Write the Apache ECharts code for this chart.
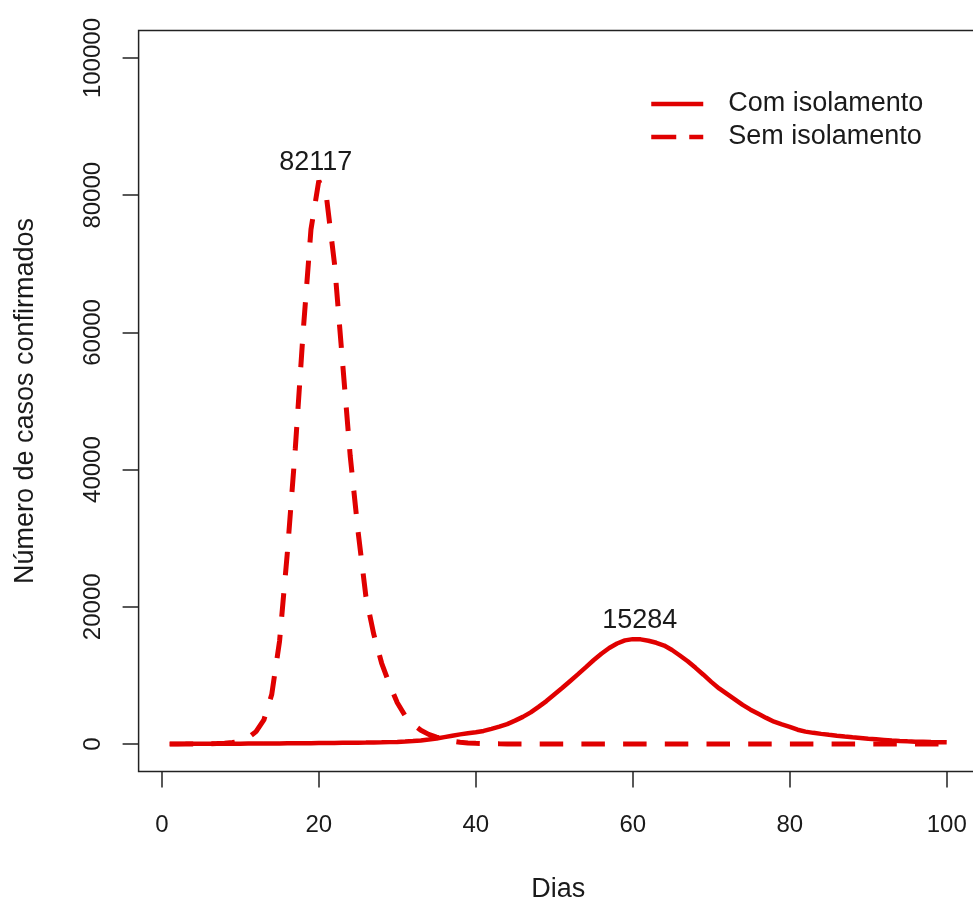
<!DOCTYPE html>
<html><head><meta charset="utf-8">
<script src="https://cdn.jsdelivr.net/npm/echarts@6/dist/echarts.min.js"></script>
<style>html,body{margin:0;padding:0;background:#fff}#c{width:973px;height:902px}</style>
</head><body><div id="c"></div>
<script>
const days = [1,2,3,4,5,6,7,8,9,10,11,12,13,14,15,16,17,18,19,20,
  21,22,23,24,25,26,27,28,29,30,31,32,33,34,35,36,37,38,39,40,
  41,42,43,44,45,46,47,48,49,50,51,52,53,54,55,56,57,58,59,60,
  61,62,63,64,65,66,67,68,69,70,71,72,73,74,75,76,77,78,79,80,
  81,82,83,84,85,86,87,88,89,90,91,92,93,94,95,96,97,98,99,100];
const comIsolamento = [10,12,14,17,20,24,28,33,38,44,
  50,57,64,72,80,89,98,108,118,128,
  138,149,160,172,185,200,218,240,268,300,
  360,430,520,640,800,1000,1200,1400,1560,1720,
  1900,2200,2520,2900,3400,3950,4600,5400,6250,7200,
  8150,9150,10150,11170,12200,13150,14000,14650,15100,15284,
  15250,15050,14750,14350,13700,12900,12050,11100,10100,9050,
  8100,7300,6500,5700,5000,4400,3800,3250,2850,2500,
  2080,1800,1620,1470,1330,1200,1080,970,870,770,
  680,590,500,430,380,340,310,280,260,240];
const semIsolamento = [1,2,4,8,15,30,58,110,210,400,
  900,1800,3500,7200,15000,28000,43000,60000,75000,82117,
  79500,70000,56000,42000,31000,21500,16000,11800,8700,6000,
  4100,2900,2000,1400,1000,650,400,250,150,90,
  55,33,20,12,7,4,2,1,1,0,
  0,0,0,0,0,0,0,0,0,0,
  0,0,0,0,0,0,0,0,0,0,
  0,0,0,0,0,0,0,0,0,0,
  0,0,0,0,0,0,0,0,0,0,
  0,0,0,0,0,0,0,0,0,0];
const xTicks = [0,20,40,60,80,100];
const yTicks = [0,20000,40000,60000,80000,100000];
const seriesNames = ['Com isolamento','Sem isolamento'];
const xTitle = 'Dias';
const yTitle = 'Número de casos confirmados';

const RED = '#e00000';
const INK = '#1a1a1a';
const FONT = '"Liberation Sans", Arial, sans-serif';
const chart = echarts.init(document.getElementById('c'), null, {renderer:'canvas'});
const pairs = arr => days.map((d,i)=>[d, arr[i]]);
function peak(offsetX){
  return {
    symbol:'circle', symbolSize:0, silent:true, animation:false,
    data:[{type:'max', label:{offset:[offsetX,0]}}],
    label:{show:true, position:'top', distance:5, formatter:p=>String(p.value),
      fontFamily:FONT, fontSize:27, color:INK}
  };
}
const option = {
  animation:false,
  backgroundColor:'#fff',
  grid:{left:138.6, top:30.6, width:839.2, height:740.8, show:true,
    outerBoundsMode:'none', containLabel:false,
    borderColor:'#222', borderWidth:1.5, backgroundColor:'transparent'},
  xAxis:{type:'value', min:-2.96, max:103.96,
    name:xTitle, nameLocation:'middle', nameGap:105,
    nameTextStyle:{fontFamily:FONT, fontSize:27, color:INK, lineHeight:27},
    axisLine:{show:false, onZero:false}, splitLine:{show:false},
    axisTick:{show:true, inside:false, length:16, customValues:xTicks, lineStyle:{color:'#222', width:1.5}},
    axisLabel:{customValues:xTicks, margin:42, fontFamily:FONT, fontSize:24, color:INK,
      formatter:v=>String(v)}},
  yAxis:{type:'value', min:-4000, max:104000,
    name:yTitle, nameLocation:'middle', nameGap:100, nameRotate:90,
    nameTextStyle:{fontFamily:FONT, fontSize:27, color:INK, lineHeight:27},
    axisLine:{show:false, onZero:false}, splitLine:{show:false},
    axisTick:{show:true, inside:false, length:16, customValues:yTicks, lineStyle:{color:'#222', width:1.5}},
    axisLabel:{customValues:yTicks, margin:33, rotate:90, fontFamily:FONT, fontSize:24, color:INK,
      formatter:v=>String(v)}},
  legend:{orient:'vertical', left:644, top:84, itemWidth:52, itemHeight:20, itemGap:3,
    selectedMode:false,
    itemStyle:{opacity:0},
    textStyle:{fontFamily:FONT, fontSize:27, color:INK, padding:[0,0,0,20], lineHeight:30},
    lineStyle:{width:4.5},
    data:[{name:seriesNames[0]}, {name:seriesNames[1], lineStyle:{type:[25,13]}}]},
  series:[
    {name:seriesNames[0], type:'line', data:pairs(comIsolamento), symbol:'none',
      lineStyle:{color:RED, width:4.5}, itemStyle:{color:RED}, z:3, markPoint:peak(7)},
    {name:seriesNames[1], type:'line', data:pairs(semIsolamento), symbol:'none',
      lineStyle:{color:RED, width:5, type:[23.5,18.2]}, itemStyle:{color:RED}, z:2, markPoint:peak(-3)}
  ]
};
chart.setOption(option);
</script></body></html>
